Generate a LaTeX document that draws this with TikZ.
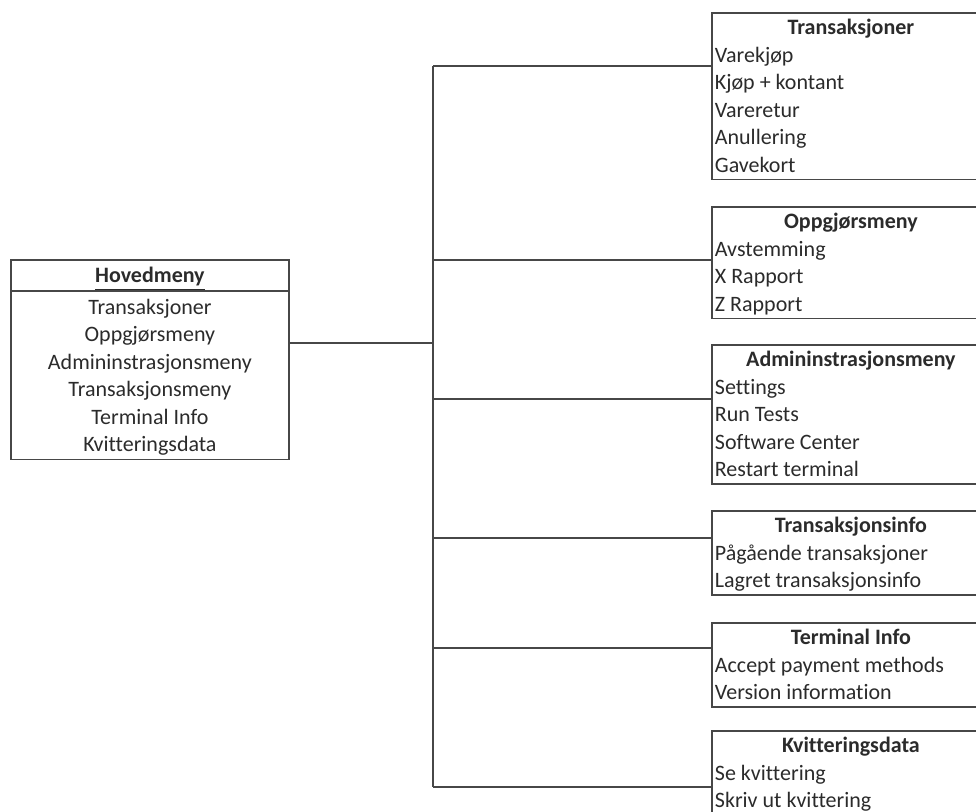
\documentclass[tikz,border=0pt]{standalone}
\usepackage{fontspec}
\setmainfont{Carlito}[Ligatures=NoCommon]
\usetikzlibrary{shapes.multipart}

\definecolor{inkgray}{HTML}{2B2B2B}
\definecolor{framegray}{HTML}{474747}

% strut that fixes the top and bottom padding of each menu line
\newcommand{\rowstrut}{\rule[-3.5pt]{0pt}{14.5pt}}

\tikzset{
    menufont/.style={font=\fontsize{11}{13.75}\selectfont, text=inkgray},
    mainmenu/.style={menufont, draw=framegray, line width=0.9pt,
        rectangle split, rectangle split parts=2, anchor=north west,
        text width=136pt, align=flush center, inner xsep=1.5pt, inner ysep=0pt},
    submenu/.style={menufont, draw=framegray, line width=0.9pt,
        anchor=north west, text width=136pt, align=flush left,
        inner xsep=1.5pt, inner ysep=0pt,
        execute at begin node=\rowstrut, execute at end node=\rowstrut},
    branch/.style={draw=framegray, line width=0.9pt}
}

\begin{document}
\begin{tikzpicture}[x=0.5pt, y=-0.5pt]
    \def\trunkx{433}
    \def\subx{711}

    % page frame, the sub menus run past the right edge
    \useasboundingbox (0,0) rectangle (976,811);
    \clip (0,0) rectangle (976,811);

    % Main menu
    \node[mainmenu] (main) at (10,259)
        {\rowstrut\underline{\textbf{Hovedmeny}}
         \nodepart{two}\rowstrut Transaksjoner\\ Oppgjørsmeny\\
         Admininstrasjonsmeny\\ Transaksjonsmeny\\ Terminal Info\\
         Kvitteringsdata\rowstrut};

    % Sub menus
    \node[submenu] (trans) at (\subx,12)
        {\makebox[\hsize]{\bfseries Transaksjoner}\\ Varekjøp\\
         Kjøp + kontant\\ Vareretur\\ Anullering\\ Gavekort};
    \node[submenu] (oppgj) at (\subx,206)
        {\makebox[\hsize]{\bfseries Oppgjørsmeny}\\ Avstemming\\
         X Rapport\\ Z Rapport};
    \node[submenu] (admin) at (\subx,344)
        {\makebox[\hsize]{\bfseries Admininstrasjonsmeny}\\ Settings\\
         Run Tests\\ Software Center\\ Restart terminal};
    \node[submenu] (tinfo) at (\subx,510)
        {\makebox[\hsize]{\bfseries Transaksjonsinfo}\\
         Pågående transaksjoner\\ Lagret transaksjonsinfo};
    \node[submenu] (term) at (\subx,622)
        {\makebox[\hsize]{\bfseries Terminal Info}\\
         Accept payment methods\\ Version information};
    \node[submenu] (kvitt) at (\subx,730)
        {\makebox[\hsize]{\bfseries Kvitteringsdata}\\
         Se kvittering\\ Skriv ut kvittering};

    % Main menu to trunk
    \coordinate (hub) at (\trunkx,343);
    \draw[branch] (hub -| main.east) -- (hub);

    % Trunk branches to each sub menu
    \foreach \sub/\yy in {trans/66, oppgj/260, admin/399, tinfo/538, term/648, kvitt/787}{
        \coordinate (br-\sub) at (\trunkx,\yy);
        \draw[branch] (br-\sub) -- (br-\sub -| \sub.west);
    }
    \draw[branch] (br-trans) -- (br-kvitt);
\end{tikzpicture}
\end{document}
